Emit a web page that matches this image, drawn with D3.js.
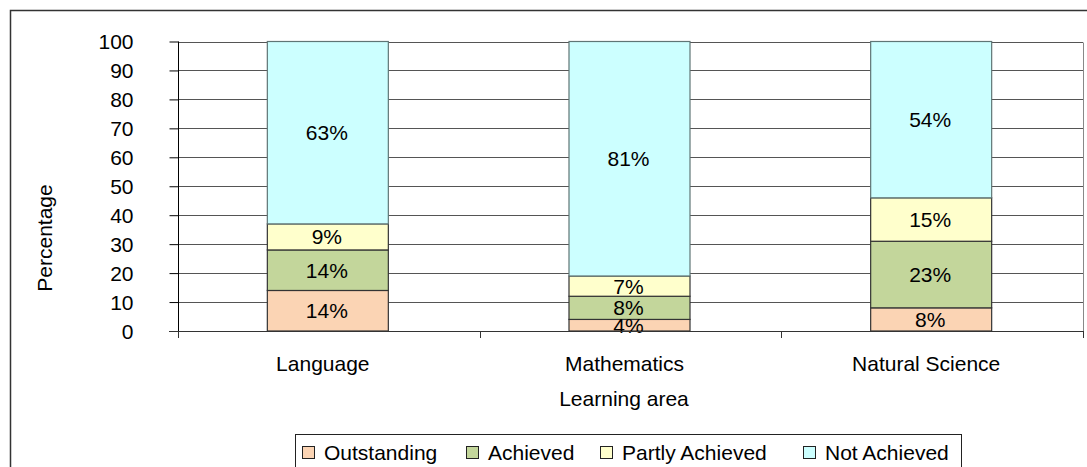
<!DOCTYPE html>
<html><head><meta charset="utf-8">
<script src="https://cdn.jsdelivr.net/npm/d3@7"></script>
<style>body{margin:0;background:#fff;}svg{display:block;font-family:"Liberation Sans",Arial,sans-serif;}</style>
</head><body>
<svg id="c" width="1087" height="467"></svg>
<script>
const categories = ["Language", "Mathematics", "Natural Science"];
const seriesNames = ["Outstanding", "Achieved", "Partly Achieved", "Not Achieved"];
const outstanding = [14, 4, 8];
const achieved = [14, 8, 23];
const partlyAchieved = [9, 7, 15];
const notAchieved = [63, 81, 54];
const yTicks = [0, 10, 20, 30, 40, 50, 60, 70, 80, 90, 100];
const colors = ["#FBD4B4", "#C3D69B", "#FFFFCC", "#CCFFFF"];
const strokes = ["#333", "#333", "#333", "#5f7575"];
const FS = 21;

const rows = categories.map((c, i) => ({cat: c, s0: outstanding[i], s1: achieved[i], s2: partlyAchieved[i], s3: notAchieved[i]}));
const stack = d3.stack().keys(["s0", "s1", "s2", "s3"])(rows);

const svg = d3.select("#c");
const L = 178, R = 1083, T = 41.5, B = 331;

// outer border
svg.append("rect").attr("x", 10.5).attr("y", 10.5).attr("width", 1100).attr("height", 500)
  .attr("fill", "none").attr("stroke", "#333").attr("stroke-width", 1.5);

const x = d3.scaleBand().domain(categories).range([L, R]).paddingInner(0).paddingOuter(0);
const y = d3.scaleLinear().domain([0, 100]).range([B, T]);

// gridlines
svg.append("g").selectAll("line").data(yTicks.filter(t => t > 0)).join("line")
  .attr("x1", L).attr("x2", R).attr("y1", d => Math.round(y(d)) + 0.5).attr("y2", d => Math.round(y(d)) + 0.5)
  .attr("stroke", "#555").attr("stroke-width", 1);

// right border of plot
svg.append("line").attr("x1", R + 0.5).attr("x2", R + 0.5).attr("y1", Math.round(T) + 0.5).attr("y2", B)
  .attr("stroke", "#888");

// bars
const barW = 121;
const groups = svg.append("g").selectAll("g").data(stack).join("g")
  .attr("fill", (d, i) => colors[i]).attr("stroke", (d, i) => strokes[i]);
groups.selectAll("rect").data(d => d).join("rect")
  .attr("x", d => x(d.data.cat) + x.bandwidth() / 2 - barW / 2 - 1)
  .attr("width", barW)
  .attr("y", d => y(d[1]))
  .attr("height", d => y(d[0]) - y(d[1]))
  .attr("stroke-width", 1.2);

// labels
svg.append("g").selectAll("g").data(stack).join("g")
  .selectAll("text").data(d => d).join("text")
  .attr("x", d => x(d.data.cat) + x.bandwidth() / 2 - 2)
  .attr("y", d => (y(d[0]) + y(d[1])) / 2 + 7.5)
  .attr("text-anchor", "middle").attr("font-size", FS).attr("fill", "#000")
  .text(d => Math.round(d[1] - d[0]) + "%");

// y axis
const yAxis = d3.axisLeft(y).tickValues(yTicks).tickSize(9).tickPadding(36);
const gy = svg.append("g").attr("transform", `translate(${L + 0.5},0)`).call(yAxis);
gy.select(".domain").attr("d", `M0,${T}V${B + 6}`).attr("stroke", "#000");
gy.selectAll(".tick line").attr("stroke", "#000");
gy.selectAll(".tick text").attr("font-size", FS).attr("font-family", "Liberation Sans, Arial, sans-serif").attr("fill", "#000").attr("dy", "0.35em");

// x axis
svg.append("line").attr("x1", L - 9).attr("x2", R).attr("y1", B + 0.5).attr("y2", B + 0.5).attr("stroke", "#333");
const bounds = [L, ...categories.map(c => x(c) + x.bandwidth())];
svg.append("g").selectAll("line").data(bounds).join("line")
  .attr("x1", d => Math.round(d) + 0.5).attr("x2", d => Math.round(d) + 0.5)
  .attr("y1", B).attr("y2", B + 7).attr("stroke", "#333");
svg.append("g").selectAll("text").data(categories).join("text")
  .attr("x", d => x(d) + x.bandwidth() / 2 - 6).attr("y", 371)
  .attr("text-anchor", "middle").attr("font-size", FS).text(d => d);

// axis titles
svg.append("text").attr("x", 624).attr("y", 406).attr("text-anchor", "middle").attr("font-size", FS).text("Learning area");
svg.append("text").attr("transform", "translate(51.5,238) rotate(-90)").attr("text-anchor", "middle").attr("font-size", FS).text("Percentage");

// legend
const lg = svg.append("g");
lg.append("rect").attr("x", 295.5).attr("y", 434.5).attr("width", 666).attr("height", 60).attr("fill", "#fff").attr("stroke", "#222");
const lx = [302, 466, 600, 803];
seriesNames.forEach((n, i) => {
  lg.append("rect").attr("x", lx[i] + 0.5).attr("y", 446.5).attr("width", 12).attr("height", 12)
    .attr("fill", colors[i]).attr("stroke", "#222");
  lg.append("text").attr("x", lx[i] + 22).attr("y", 460).attr("font-size", FS).text(n);
});
</script>
</body></html>
